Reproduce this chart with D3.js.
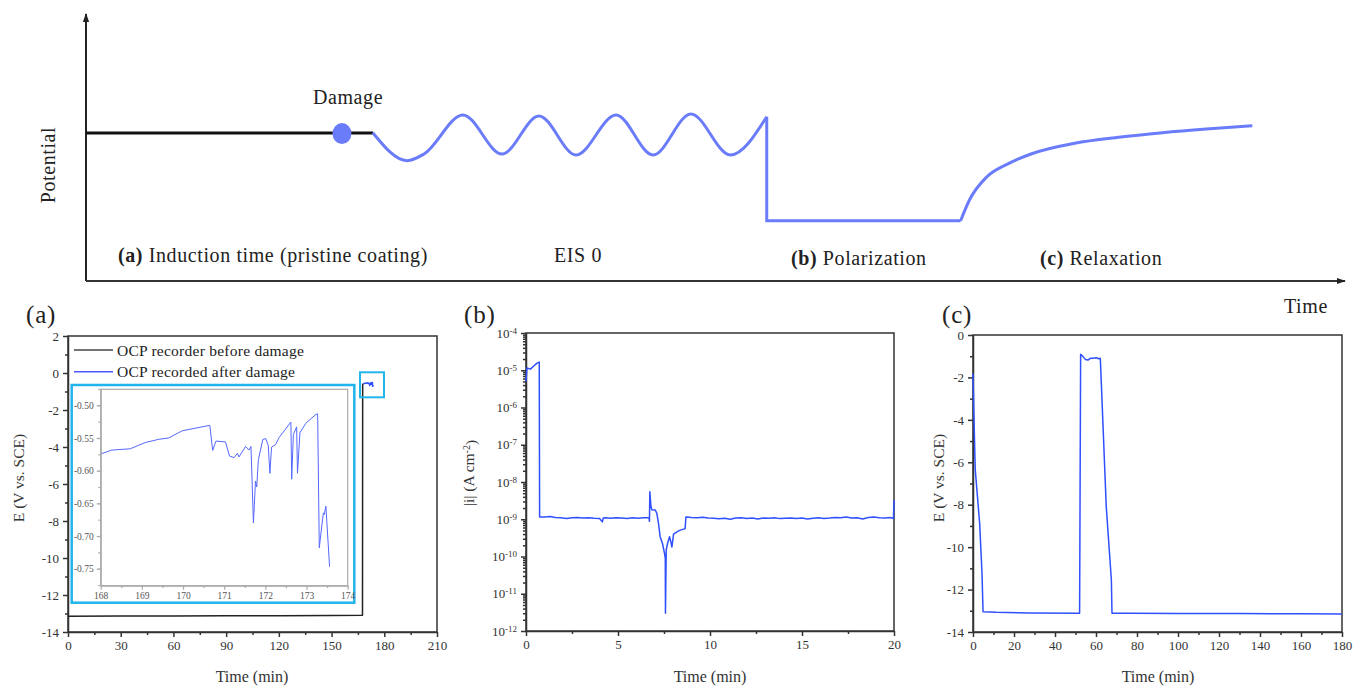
<!DOCTYPE html>
<html>
<head>
<meta charset="utf-8">
<script src="https://cdn.jsdelivr.net/npm/d3@7"></script>
<style>
body { margin: 0; background: #fff; }
svg { font-family: "Liberation Serif", "Times New Roman", serif; }
</style>
</head>
<body>
<svg id="chart" width="1362" height="686"></svg>
<script>
// ---------------- data ----------------

// schematic (arbitrary units, time 0-100, potential 0-100)
const baseT = [0, 22.8];
const baseE = [55.4, 55.4];
const damageT = 20.33, damageE = 55.2;
const waveT = [22.78, 25.5, 26.85, 29.94, 33.04, 35.98, 38.92, 42.1, 45.04, 48.05, 51.18, 54.07];
const waveE = [55.54, 45.06, 47.57, 62.17, 47.57, 61.8, 47.19, 62.17, 47.19, 62.55, 47.19, 61.54];
const polT = [54.07, 54.07, 69.47];
const polE = [61.54, 22.58, 22.58];
const relaxT = [69.47, 70.17, 71.56, 73.31, 75.06, 78.53, 82.02, 85.5, 88.98, 92.64];
const relaxE = [22.58, 30.34, 39.06, 44.08, 47.57, 51.57, 53.82, 55.54, 56.93, 58.16];

// (a) OCP before / after damage
const ocpBeforeT = [0, 30, 60, 90, 120, 150, 167.6, 167.7, 168.0];
const ocpBeforeE = [-13.15, -13.14, -13.13, -13.12, -13.12, -13.11, -13.1, -0.63, -0.574];
const ocpAfterT = [168.02, 168.27, 168.72, 169.08, 169.41, 169.65, 169.98, 170.22, 170.65, 170.72, 170.8,
  171.03, 171.13, 171.24, 171.32, 171.36, 171.52, 171.6, 171.65, 171.71, 171.76, 171.79, 171.83, 171.94,
  172.01, 172.07, 172.11, 172.15, 172.25, 172.33, 172.62, 172.64, 172.68, 172.76, 172.78, 172.84, 172.98,
  173.23, 173.27, 173.31, 173.37, 173.41, 173.43, 173.47, 173.56];
const ocpAfterE = [-0.574, -0.5685, -0.5665, -0.557, -0.552, -0.55, -0.539, -0.536, -0.5307, -0.569, -0.5547,
  -0.556, -0.5777, -0.58, -0.5736, -0.579, -0.563, -0.5685, -0.563, -0.68, -0.616, -0.625, -0.583, -0.552,
  -0.551, -0.5613, -0.604, -0.564, -0.56, -0.5496, -0.5256, -0.613, -0.5445, -0.533, -0.604, -0.542, -0.5276,
  -0.5138, -0.513, -0.718, -0.685, -0.6646, -0.667, -0.6544, -0.747];

// (b) polarization current density
const curT = [0, 0.05, 0.24, 0.42, 0.6, 0.72, 0.74, 1.0, 1.3, 1.6, 1.9, 2.2, 2.5, 2.8, 3.1, 3.4, 3.7, 4.0,
  4.15, 4.2, 4.3, 4.6, 4.9, 5.2, 5.5, 5.8, 6.1, 6.4, 6.69, 6.71, 6.73, 6.79, 6.84, 7.02, 7.11, 7.2, 7.29,
  7.42, 7.53, 7.57, 7.58, 7.62, 7.69, 7.8, 7.87, 7.93, 8.02, 8.2, 8.38, 8.65, 8.69, 9.0, 9.3, 9.6, 9.9,
  10.2, 10.5, 10.8, 11.1, 11.4, 11.7, 12.0, 12.3, 12.6, 12.9, 13.2, 13.5, 13.8, 14.1, 14.4, 14.7, 15.0,
  15.3, 15.6, 15.9, 16.2, 16.5, 16.8, 17.1, 17.4, 17.7, 18.0, 18.3, 18.6, 18.9, 19.2, 19.5, 19.8, 19.97, 20];
const curI = [5e-6, 1.15e-5, 1.07e-5, 1.3e-5, 1.55e-5, 1.65e-5, 1.15e-9, 1.15e-9, 1.18e-9, 1.12e-9, 1.1e-9,
  1.05e-9, 1.1e-9, 1.12e-9, 1.08e-9, 1.1e-9, 1.06e-9, 1.05e-9, 0.85e-9, 1.08e-9, 1.1e-9, 1.06e-9, 1.1e-9,
  1.08e-9, 1.05e-9, 1.1e-9, 1.07e-9, 1.1e-9, 1.1e-9, 0.88e-9, 5.5e-9, 2.2e-9, 1.8e-9, 1.78e-9, 1.45e-9,
  7.8e-10, 3.4e-10, 2.2e-10, 1.2e-10, 8.9e-11, 3e-12, 1.5e-10, 2.2e-10, 3.4e-10, 2.5e-10, 1.8e-10, 4e-10,
  4.6e-10, 5.1e-10, 5.6e-10, 1.15e-9, 1.12e-9, 1.1e-9, 1.13e-9, 1.08e-9, 1.06e-9, 1.03e-9, 1.06e-9, 1.0e-9,
  1.08e-9, 1.1e-9, 1.05e-9, 1.08e-9, 1.02e-9, 1.08e-9, 1.06e-9, 1.1e-9, 1.04e-9, 1.07e-9, 1.08e-9, 1.04e-9,
  1.08e-9, 1.02e-9, 1.06e-9, 1.1e-9, 1.05e-9, 1.08e-9, 1.12e-9, 1.1e-9, 1.15e-9, 1.08e-9, 1.1e-9, 1.02e-9,
  1.12e-9, 1.15e-9, 1.1e-9, 1.08e-9, 1.12e-9, 1.05e-9, 3.3e-9];

// (c) relaxation potential
const relT = [0, 0.5, 1.1, 3.25, 4.4, 4.9, 11.4, 27.6, 52.0, 52.5, 53.7, 54.8, 56.1, 57.2, 58.5, 60.2, 61.2,
  62.1, 62.6, 65.0, 67.5, 67.8, 76.4, 100, 130, 160, 180];
const relE = [-1.81, -4.0, -6.36, -8.88, -11.24, -13.04, -13.07, -13.1, -13.12, -0.91, -1.02, -1.15, -1.18,
  -1.1, -1.1, -1.07, -1.12, -1.1, -2.28, -8.09, -11.55, -13.12, -13.12, -13.13, -13.13, -13.14, -13.15];

// tick labels
const aXTicks = [0, 30, 60, 90, 120, 150, 180, 210];
const aYTicks = [-14, -12, -10, -8, -6, -4, -2, 0, 2];
const insetXTicks = [168, 169, 170, 171, 172, 173, 174];
const insetYTicks = [-0.75, -0.70, -0.65, -0.60, -0.55, -0.50];
const bXTicks = [0, 5, 10, 15, 20];
const bYTicks = [1e-12, 1e-11, 1e-10, 1e-9, 1e-8, 1e-7, 1e-6, 1e-5, 1e-4];
const cXTicks = [0, 20, 40, 60, 80, 100, 120, 140, 160, 180];
const cYTicks = [-14, -12, -10, -8, -6, -4, -2, 0];
const legendLabels = ["OCP recorder before damage", "OCP recorded after damage"];

// ---------------- drawing ----------------
const svg = d3.select("#chart");
const schemeBlue = "#6b7cfb";
const dataBlue = "#3050ff";
const cyan = "#22b4ec";
const axisCol = "#333";

const zip = (a, b) => a.map((d, i) => [d, b[i]]);

// ---- schematic ----
const sx = d3.scaleLinear().domain([0, 100]).range([86, 1345]);
const sy = d3.scaleLinear().domain([0, 100]).range([281, 14]);

const defs = svg.append("defs");
defs.append("marker").attr("id", "arrow")
  .attr("viewBox", "0 0 10 10").attr("refX", 9).attr("refY", 5)
  .attr("markerWidth", 9).attr("markerHeight", 9)
  .attr("markerUnits", "userSpaceOnUse")
  .attr("orient", "auto")
  .append("path").attr("d", "M0,1.5 L10,5 L0,8.5 Z").attr("fill", "#222");

svg.append("line").attr("x1", sx(0)).attr("y1", sy(0)).attr("x2", sx(0)).attr("y2", sy(100))
  .attr("stroke", "#222").attr("stroke-width", 2).attr("marker-end", "url(#arrow)");
svg.append("line").attr("x1", sx(0)).attr("y1", sy(0)).attr("x2", sx(100)).attr("y2", sy(0))
  .attr("stroke", "#333").attr("stroke-width", 2).attr("marker-end", "url(#arrow)");

const sLine = d3.line().x(d => sx(d[0])).y(d => sy(d[1]));
svg.append("path").attr("d", sLine(zip(baseT, baseE)))
  .attr("fill", "none").attr("stroke", "#111").attr("stroke-width", 3);
svg.append("path").attr("d", sLine.curve(d3.curveMonotoneX)(zip(waveT, waveE)))
  .attr("fill", "none").attr("stroke", schemeBlue).attr("stroke-width", 3);
svg.append("path").attr("d", sLine.curve(d3.curveLinear)(zip(polT, polE)))
  .attr("fill", "none").attr("stroke", schemeBlue).attr("stroke-width", 3);
svg.append("path").attr("d", sLine.curve(d3.curveMonotoneX)(zip(relaxT, relaxE)))
  .attr("fill", "none").attr("stroke", schemeBlue).attr("stroke-width", 3);
svg.append("ellipse").attr("cx", sx(damageT)).attr("cy", sy(damageE))
  .attr("rx", 9.5).attr("ry", 10.5).attr("fill", schemeBlue);

function schemeText(x, y, tag, txt, anchor) {
  const t = svg.append("text").attr("x", x).attr("y", y).attr("font-size", 20)
    .attr("letter-spacing", 0.6).attr("fill", "#222").attr("text-anchor", anchor || "start");
  if (tag) t.append("tspan").attr("font-weight", "bold").text(tag + " ");
  t.append("tspan").text(txt);
  return t;
}
schemeText(348, 104, null, "Damage", "middle");
schemeText(0, 0, null, "Potential", "middle").attr("transform", "translate(55,165) rotate(-90)");
schemeText(118, 262, "(a)", "Induction time (pristine coating)");
schemeText(554, 262, null, "EIS 0");
schemeText(791, 265, "(b)", "Polarization");
schemeText(1040, 265, "(c)", "Relaxation");
schemeText(1284, 313, null, "Time");

// ---- panel helper ----
function drawPanel(o) {
  const g = svg.append("g");
  const [x0, x1] = o.x.range();
  const [y0, y1] = o.y.range();
  const col = o.col || axisCol;
  const fs = o.fontSize || 13;
  g.append("rect").attr("x", x0).attr("y", y1).attr("width", x1 - x0).attr("height", y0 - y1)
    .attr("fill", o.fill || "none").attr("stroke", col).attr("stroke-width", o.frameW || 1.5);

  const xa = g.append("g").attr("transform", `translate(0,${y0})`)
    .call(d3.axisBottom(o.x).tickValues(o.xTicks).tickSize(o.tick || 5).tickSizeOuter(0)
      .tickPadding(o.pad || 4).tickFormat(o.xFmt || (d => String(d))));
  const ya = g.append("g").attr("transform", `translate(${x0},0)`)
    .call(d3.axisLeft(o.y).tickValues(o.yTicks).tickSize(o.tick || 5).tickSizeOuter(0)
      .tickPadding(o.pad || 4).tickFormat(o.yFmt || (d => String(d))));
  g.append("g").attr("transform", `translate(0,${y0})`)
    .call(d3.axisBottom(o.x).tickValues(o.xMinor).tickSize((o.tick || 5) * 0.6).tickFormat(""))
    .select(".domain").remove();
  g.append("g").attr("transform", `translate(${x0},0)`)
    .call(d3.axisLeft(o.y).tickValues(o.yMinor).tickSize((o.tick || 5) * 0.6).tickFormat(""))
    .select(".domain").remove();
  g.selectAll(".domain, .tick line").attr("stroke", col).attr("stroke-width", o.frameW || 1.5);
  g.selectAll(".tick text").attr("fill", o.textCol || "#333").attr("font-size", fs)
    .attr("font-family", "Liberation Serif, serif");
  return { g, xa, ya };
}

function lineOn(g, x, y, xs, ys, color, w) {
  g.append("path")
    .attr("d", d3.line().x(d => x(d[0])).y(d => y(d[1]))(zip(xs, ys)))
    .attr("fill", "none").attr("stroke", color).attr("stroke-width", w)
    .attr("stroke-linejoin", "round");
}

const range = (a, b, s) => d3.range(a, b + s / 2, s);

function panelText(x, y, txt, size, rotate) {
  const t = svg.append("text").attr("font-size", size).attr("fill", "#333").attr("text-anchor", "middle");
  if (rotate) t.attr("transform", `translate(${x},${y}) rotate(-90)`);
  else t.attr("x", x).attr("y", y);
  if (txt) t.text(txt);
  return t;
}
function tagText(x, txt) {
  svg.append("text").attr("x", x).attr("y", 323).attr("font-size", 25)
    .attr("letter-spacing", 0.8).attr("fill", "#222").text(txt);
}

// ---- panel (a) ----
const ax = d3.scaleLinear().domain([0, 210]).range([68, 437]);
const ay = d3.scaleLinear().domain([-14, 2]).range([632, 336]);
const pa = drawPanel({ x: ax, y: ay, xTicks: aXTicks, yTicks: aYTicks,
  xMinor: range(15, 195, 30), yMinor: range(-13, 1, 2) });
lineOn(pa.g, ax, ay, ocpBeforeT, ocpBeforeE, "#222", 1.5);
lineOn(pa.g, ax, ay, ocpAfterT, ocpAfterE, dataBlue, 1.5);

// legend
const legColors = ["#444", "#4a5cff"];
legendLabels.forEach((lab, i) => {
  const ly = 350 + i * 21.7;
  pa.g.append("line").attr("x1", 74).attr("x2", 113).attr("y1", ly).attr("y2", ly)
    .attr("stroke", legColors[i]).attr("stroke-width", 1.5);
  pa.g.append("text").attr("x", 117).attr("y", ly + 5.5).attr("font-size", 15.5)
    .attr("letter-spacing", 0.25).attr("fill", "#222").text(lab);
});

// zoom boxes
pa.g.append("rect").attr("x", 360).attr("y", 372.3).attr("width", 24).attr("height", 25)
  .attr("fill", "none").attr("stroke", cyan).attr("stroke-width", 2);
pa.g.append("rect").attr("x", 71.7).attr("y", 385).attr("width", 282.6).attr("height", 217.7)
  .attr("fill", "#fff").attr("stroke", cyan).attr("stroke-width", 2.5);

// inset
const ix = d3.scaleLinear().domain([168, 174]).range([100.7, 347.7]);
const iy = d3.scaleLinear().domain([-0.776, -0.4755]).range([585.7, 389.3]);
const pi = drawPanel({ x: ix, y: iy, xTicks: insetXTicks, yTicks: insetYTicks,
  xMinor: range(168.5, 173.5, 1), yMinor: range(-0.775, -0.475, 0.025),
  col: "#aaa", textCol: "#555", fontSize: 9.5, tick: 4, pad: 3, frameW: 1.2,
  yFmt: d => d.toFixed(2) });
lineOn(pi.g, ix, iy, ocpAfterT, ocpAfterE, "#5468ff", 1);

tagText(26, "(a)");
panelText(24, 478, "E (V vs. SCE)", 15.5, true);
panelText(252, 682, "Time (min)", 16);

// ---- panel (b) ----
const bx = d3.scaleLinear().domain([0, 20]).range([526, 894]);
const by = d3.scaleLog().domain([1e-12, 1e-4]).range([631, 333]);
const bMinor = [];
for (let e = -12; e < -4; e++) for (let m = 2; m <= 9; m++) bMinor.push(m * Math.pow(10, e));
const pb = drawPanel({ x: bx, y: by, xTicks: bXTicks, yTicks: bYTicks,
  xMinor: range(2.5, 17.5, 5), yMinor: bMinor, yFmt: () => "" });
pb.ya.selectAll(".tick text").each(function (d) {
  const t = d3.select(this).text(null);
  t.append("tspan").text("10");
  t.append("tspan").attr("dy", "-0.45em").attr("font-size", 9).text(String(Math.round(Math.log10(d))));
});
lineOn(pb.g, bx, by, curT, curI, dataBlue, 1.5);

tagText(464, "(b)");
const bt = panelText(474, 473, null, 15.5, true);
bt.append("tspan").text("|i| (A cm");
bt.append("tspan").attr("dy", "-0.45em").attr("font-size", 10).text("-2");
bt.append("tspan").attr("dy", "0.45em").text(")");
panelText(710, 682, "Time (min)", 16);

// ---- panel (c) ----
const cx = d3.scaleLinear().domain([0, 180]).range([973, 1342]);
const cy = d3.scaleLinear().domain([-14, 0]).range([632, 335]);
const pc = drawPanel({ x: cx, y: cy, xTicks: cXTicks, yTicks: cYTicks,
  xMinor: range(10, 170, 20), yMinor: range(-13, -1, 2) });
lineOn(pc.g, cx, cy, relT, relE, dataBlue, 1.5);

tagText(942, "(c)");
panelText(944, 478, "E (V vs. SCE)", 15.5, true);
panelText(1158, 682, "Time (min)", 16);
</script>
</body>
</html>
